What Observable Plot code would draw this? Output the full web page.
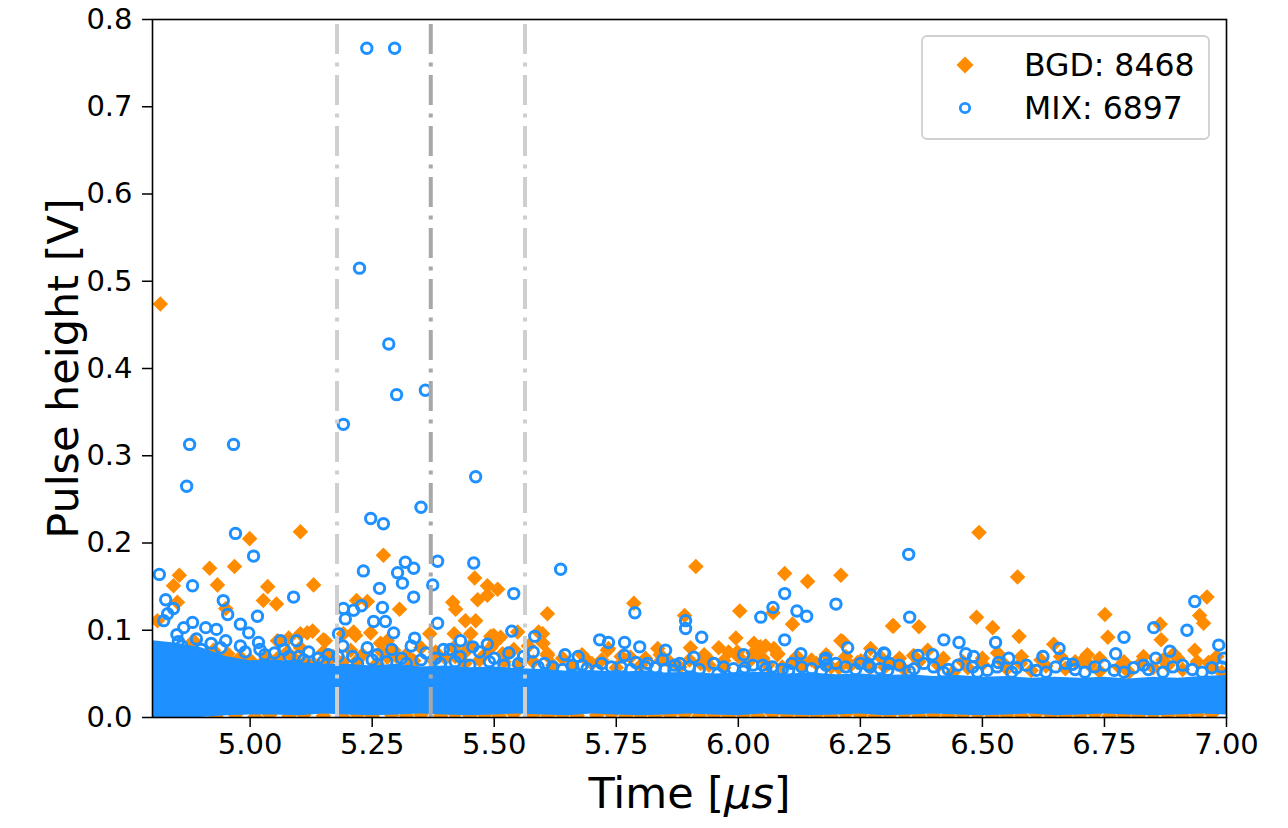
<!DOCTYPE html>
<html><head><meta charset="utf-8">
<script src="https://cdn.jsdelivr.net/npm/d3@7"></script>
<script src="https://cdn.jsdelivr.net/npm/@observablehq/plot@0.6"></script>
<style>
body{margin:0;background:#fff}
#wrap{position:relative;width:1288px;height:828px}
#legend{position:absolute;left:921px;top:35px}
</style></head>
<body><div id="wrap"></div>
<script>
const ORANGE = "#ff8c00", BLUE = "#1e90ff";
const xTicks = [5.00,5.25,5.50,5.75,6.00,6.25,6.50,6.75,7.00];
const yTicks = [0,0.1,0.2,0.3,0.4,0.5,0.6,0.7,0.8];
const legendLabels = ["BGD: 8468","MIX: 6897"];
const vlineLight = [5.178, 5.563];
const vlineDark = [5.370];

// BGD (orange diamonds) [time µs, pulse height V]
const bgdPoints = [
[4.816,0.474],[4.999,0.205],[5.103,0.213],[4.917,0.171],[4.968,0.173],[4.855,0.163],[4.843,0.151],[4.933,0.152],[5.036,0.150],[5.130,0.152],
[5.027,0.134],[5.054,0.130],[4.851,0.132],[4.950,0.125],[5.103,0.096],[5.128,0.099],[5.150,0.089],[5.079,0.091],[4.810,0.111],[4.884,0.086],
[5.273,0.186],[5.460,0.160],[5.486,0.151],[5.507,0.147],[5.466,0.135],[5.486,0.140],[5.415,0.132],[5.421,0.124],[5.306,0.124],[5.218,0.134],
[5.240,0.133],[5.609,0.119],[5.441,0.111],[5.462,0.111],[5.368,0.096],[5.418,0.096],[5.548,0.098],[5.591,0.098],[5.493,0.093],[5.513,0.092],
[5.212,0.098],[5.191,0.096],[5.281,0.088],[5.527,0.073],[5.609,0.073],
[5.913,0.173],[6.095,0.165],[6.142,0.156],[6.210,0.163],[5.786,0.131],[5.890,0.117],[6.003,0.122],[6.071,0.120],[6.111,0.107],[6.316,0.105],
[5.599,0.096],[5.995,0.091],[6.214,0.087],[6.032,0.085],[6.056,0.082],[6.073,0.079],[5.732,0.077],[5.835,0.079],[5.902,0.080],[5.998,0.075],
[6.271,0.079],[5.609,0.071],[5.923,0.062],[5.970,0.065],[6.113,0.065],[6.251,0.065],[6.308,0.062],
[6.493,0.212],[6.572,0.161],[6.960,0.138],[6.945,0.117],[6.953,0.108],[6.751,0.118],[6.318,0.105],[6.370,0.104],[6.488,0.115],[6.521,0.103],
[6.575,0.093],[6.757,0.092],[6.864,0.107],[6.866,0.089],[6.935,0.077],[6.646,0.084],[6.715,0.072],[6.892,0.073],[6.388,0.077],[6.531,0.074],
[6.963,0.063],[6.322,0.063],[6.825,0.063],[6.701,0.063],[6.578,0.062],
[6.045,0.081],[6.081,0.073],[6.210,0.088],[6.359,0.071],[5.734,0.079],[5.937,0.068],[5.980,0.075],[6.244,0.063],[6.327,0.062],[6.206,0.057],
[5.841,0.065],[5.779,0.069],[5.691,0.065],
[5.117,0.097],[5.154,0.088],[5.056,0.088],[4.884,0.088],[5.216,0.094],[5.247,0.097],[5.267,0.085],[5.294,0.077],[5.452,0.096],[5.499,0.094],
[5.517,0.073],[5.417,0.080],[5.437,0.073],[5.493,0.080],[5.206,0.077],[5.158,0.065],[5.103,0.080],[5.076,0.075],[4.925,0.077],[4.954,0.073],
[4.980,0.069],[5.035,0.069],[5.281,0.069],[5.335,0.065],[5.376,0.065],
[5.00,0.066],[5.05,0.064],[5.09,0.068],[5.13,0.062],[5.17,0.070],[5.22,0.066],[5.26,0.062],[5.30,0.070],[5.33,0.060],[5.40,0.068],
[5.44,0.062],[5.47,0.066],[5.52,0.064],[5.55,0.060],[5.58,0.064],
[5.62,0.060],[5.66,0.058],[5.70,0.062],[5.75,0.057],[5.80,0.060],[5.86,0.063],[5.88,0.058],[5.94,0.060],[5.97,0.057],[6.02,0.063],
[6.06,0.060],[6.09,0.058],[6.13,0.060],[6.16,0.062],[6.19,0.058],[6.23,0.060],[6.27,0.057],
[6.30,0.058],[6.34,0.055],[6.41,0.060],[6.44,0.052],[6.47,0.057],[6.50,0.061],[6.55,0.056],[6.60,0.054],[6.63,0.059],[6.67,0.056],
[6.72,0.060],[6.74,0.053],[6.78,0.058],[6.80,0.052],[6.85,0.057],[6.88,0.060],[6.91,0.055],[6.97,0.058],[6.99,0.052],
[4.87,0.072],[4.91,0.068],[4.96,0.064],[5.02,0.060],[5.06,0.070],[5.11,0.062],[5.15,0.075],[5.19,0.064],[5.23,0.072],[5.27,0.075],
[5.32,0.072],[5.35,0.080],[5.38,0.075],[5.42,0.070],[5.45,0.082],[5.48,0.072],[5.50,0.085],[5.54,0.078],[5.57,0.082],[5.60,0.085],
[5.64,0.068],[5.68,0.072],[5.72,0.066],[5.76,0.070],[5.81,0.068],[5.84,0.072],[5.90,0.066],[5.93,0.072],[5.96,0.080],[6.00,0.070],
[6.03,0.074],[6.05,0.068],[6.08,0.072],[6.12,0.070],[6.15,0.066],[6.18,0.072],[6.22,0.070],[6.26,0.066],[6.29,0.070],[6.33,0.068],
[6.37,0.064],[6.42,0.068],[6.46,0.064],[6.50,0.068],[6.54,0.064],[6.58,0.070],[6.62,0.066],[6.66,0.070],[6.69,0.064],[6.74,0.068],
[6.79,0.064],[6.83,0.070],[6.87,0.066],[6.90,0.068],[6.94,0.064],[6.98,0.070]
];
// BGD points lying at the very bottom of the band
const bgdBase = [
[4.93,0.002],[4.97,0.003],[5.01,0.001],[5.04,0.003],[5.08,0.002],[5.11,0.003],[5.15,0.002],[5.19,0.001],[5.22,0.003],[5.25,0.002],
[5.29,0.003],[5.32,0.002],[5.35,0.003],[5.39,0.002],[5.42,0.004],[5.45,0.002],[5.48,0.003],[5.51,0.002],[5.54,0.004],[5.58,0.003],
[5.61,0.002],[5.64,0.003],[5.67,0.002],[5.71,0.003],[5.74,0.004],[5.77,0.002],[5.80,0.003],[5.83,0.002],[5.86,0.003],[5.89,0.004],
[5.92,0.002],[5.95,0.003],[5.98,0.002],[6.01,0.003],[6.04,0.002],[6.07,0.004],[6.10,0.003],[6.13,0.002],[6.16,0.003],[6.19,0.002],
[6.22,0.004],[6.25,0.003],[6.28,0.002],[6.31,0.003],[6.34,0.004],[6.37,0.002],[6.40,0.003],[6.43,0.002],[6.46,0.003],[6.49,0.004],
[6.52,0.002],[6.55,0.003],[6.58,0.002],[6.61,0.004],[6.64,0.003],[6.67,0.002],[6.70,0.003],[6.73,0.004],[6.76,0.002],[6.79,0.003],
[6.82,0.002],[6.85,0.004],[6.88,0.003],[6.91,0.002],[6.94,0.003],[6.97,0.004]
];

// MIX (blue open circles) [time µs, pulse height V]
const mixPoints = [
[5.239,0.767],[5.296,0.767],[5.224,0.515],[5.284,0.428],[5.300,0.370],[5.359,0.375],[5.191,0.336],[4.876,0.313],[4.966,0.313],[4.870,0.265],
[5.462,0.276],[5.350,0.241],[5.247,0.228],[5.273,0.222],[4.970,0.211],[5.007,0.185],[4.814,0.164],[4.882,0.151],[4.827,0.135],[4.945,0.134],
[5.089,0.138],[4.954,0.118],[5.015,0.116],[4.831,0.119],[4.843,0.125],[4.823,0.111],[4.864,0.103],[4.882,0.109],[4.909,0.103],[4.931,0.101],
[4.980,0.107],[4.997,0.097],[4.853,0.087],[5.017,0.086],[5.062,0.088],[5.095,0.088],[5.191,0.125],[5.195,0.113],[5.181,0.096],
[5.232,0.168],[5.318,0.178],[5.302,0.166],[5.335,0.171],[5.312,0.154],[5.384,0.179],[5.458,0.177],[5.265,0.148],[5.335,0.138],[5.374,0.152],
[5.540,0.142],[5.271,0.126],[5.228,0.128],[5.212,0.123],[5.253,0.110],[5.277,0.110],[5.294,0.097],[5.384,0.108],[5.636,0.170],[5.536,0.099],
[5.583,0.093],[5.431,0.088],[5.486,0.084],[5.456,0.081],[5.337,0.091],[5.396,0.078],
[5.788,0.120],[5.892,0.111],[5.892,0.102],[5.925,0.092],[6.095,0.142],[6.071,0.126],[6.046,0.115],[6.120,0.122],[6.140,0.116],[6.095,0.089],
[6.200,0.130],[5.716,0.089],[5.734,0.086],[5.767,0.086],[5.798,0.081],[5.645,0.072],[5.672,0.070],[5.851,0.077],[5.909,0.069],[6.011,0.072],
[6.128,0.073],[6.224,0.080],[6.298,0.074],[6.271,0.072],[6.179,0.068],[5.767,0.071],
[6.349,0.187],[6.351,0.115],[6.935,0.133],[6.919,0.100],[6.851,0.103],[6.790,0.092],[6.421,0.089],[6.452,0.086],[6.527,0.086],[6.466,0.073],
[6.482,0.070],[6.554,0.068],[6.533,0.063],[6.624,0.070],[6.657,0.079],[6.773,0.073],[6.984,0.083],[6.884,0.076],[6.855,0.068],[6.300,0.073],
[6.368,0.071],[6.398,0.072],[6.685,0.061],[6.995,0.068],
[5.845,0.066],[5.814,0.062],[5.603,0.062],[6.177,0.066],[6.267,0.060],[6.306,0.054],[6.013,0.057],[6.056,0.056],[6.103,0.054],[5.868,0.054],
[5.958,0.050],
[4.86,0.082],[4.90,0.078],[4.94,0.080],[4.99,0.075],[5.03,0.072],[5.07,0.078],[5.10,0.070],[5.12,0.075],[5.14,0.068],[5.16,0.072],
[5.19,0.082],[5.21,0.070],[5.24,0.080],[5.26,0.072],[5.29,0.078],[5.31,0.068],[5.33,0.082],[5.36,0.074],[5.38,0.068],[5.41,0.078],
[5.43,0.070],[5.47,0.075],[5.50,0.068],[5.53,0.074],[5.56,0.070],[5.58,0.075],
[5.62,0.058],[5.66,0.060],[5.69,0.056],[5.72,0.062],[5.76,0.058],[5.79,0.063],[5.83,0.057],[5.87,0.060],[5.90,0.058],[5.95,0.062],
[5.99,0.056],[6.03,0.060],[6.07,0.058],[6.11,0.062],[6.15,0.056],[6.18,0.060],[6.22,0.058],[6.25,0.062],[6.29,0.056],[6.33,0.060],
[6.36,0.056],[6.40,0.058],[6.43,0.055],[6.48,0.058],[6.51,0.054],[6.57,0.057],[6.61,0.054],[6.65,0.058],[6.69,0.055],[6.73,0.058],
[6.77,0.054],[6.81,0.057],[6.84,0.055],[6.89,0.058],[6.93,0.055],[6.97,0.057],
[4.85,0.095],[4.89,0.090],[4.92,0.085],[4.95,0.088],[4.98,0.082],[5.02,0.078],[5.05,0.074],[5.08,0.070],[5.11,0.066],[5.15,0.064],
[5.18,0.070],[5.22,0.062],[5.25,0.066],[5.28,0.064],[5.32,0.062],[5.35,0.066],[5.39,0.062],[5.42,0.064],[5.45,0.060],[5.49,0.064],
[5.52,0.060],[5.55,0.062],[5.59,0.058],[5.64,0.055],[5.68,0.060],[5.71,0.054],[5.74,0.058],[5.78,0.055],[5.81,0.058],[5.85,0.055],
[5.88,0.062],[5.92,0.055],[5.97,0.058],[6.01,0.053],[6.05,0.060],[6.09,0.055],[6.13,0.058],[6.17,0.053],[6.20,0.062],[6.24,0.055],
[6.27,0.058],[6.31,0.062],[6.35,0.053],[6.38,0.062],[6.42,0.052],[6.45,0.060],[6.49,0.052],[6.53,0.058],[6.56,0.052],[6.59,0.060],
[6.63,0.052],[6.67,0.062],[6.71,0.052],[6.75,0.060],[6.79,0.052],[6.83,0.060],[6.87,0.052],[6.91,0.060],[6.95,0.052],[6.99,0.058]
];

// Saturated MIX core: extent of the solid band of overlapping circles
const bandTime = [4.80,4.85,4.90,4.95,5.00,5.05,5.10,5.15,5.20,5.25,5.30,5.35,5.40,5.45,5.50,5.55,5.60,5.65,5.70,5.75,5.80,5.85,5.90,5.95,6.00,6.05,6.10,6.15,6.20,6.25,6.30,6.35,6.40,6.45,6.50,6.55,6.60,6.65,6.70,6.75,6.80,6.85,6.90,6.95,7.00];
const bandTop = [0.088,0.085,0.080,0.070,0.065,0.066,0.063,0.061,0.061,0.059,0.061,0.058,0.059,0.057,0.058,0.056,0.055,0.053,0.054,0.052,0.053,0.051,0.052,0.050,0.051,0.052,0.050,0.051,0.049,0.050,0.048,0.049,0.047,0.048,0.046,0.047,0.045,0.046,0.045,0.046,0.044,0.046,0.045,0.047,0.048];
const bandBottom = [0,0,0,0.002,0.003,0.003,0.002,0.004,0.003,0.002,0.003,0.004,0.003,0.002,0.003,0.004,0.003,0.002,0.004,0.003,0.002,0.003,0.004,0.003,0.002,0.004,0.003,0.002,0.003,0.004,0.002,0.003,0.004,0.003,0.002,0.003,0.004,0.002,0.003,0.004,0.003,0.002,0.003,0.004,0.003];

const band = bandTime.map((t,i)=>({t, lo: bandBottom[i], hi: bandTop[i]}));
const px = d=>d[0], py = d=>d[1];

const chart = Plot.plot({
  width: 1288, height: 828,
  marginLeft: 152, marginRight: 62, marginTop: 19, marginBottom: 111,
  x: {domain: [4.8, 7.0]},
  y: {domain: [0, 0.8]},
  style: {fontFamily: "DejaVu Sans", fontSize: "29px", color: "black", background: "white"},
  marks: [
    Plot.dot(bgdBase, {x: px, y: py, symbol: "diamond2", r: 7, fill: ORANGE, stroke: "none", clip: true}),
    Plot.dot(bgdPoints, {x: px, y: py, symbol: "diamond2", r: 7, fill: ORANGE, stroke: "none", clip: true}),
    Plot.areaY(band, {x: "t", y1: "lo", y2: "hi", fill: BLUE, clip: true}),
    Plot.dot(mixPoints, {x: px, y: py, r: 5.2, stroke: BLUE, strokeWidth: 3, fill: "none", clip: true}),
    Plot.ruleX(vlineLight, {stroke: "#cfcfcf", strokeWidth: 4, strokeDasharray: "30,8.5,4,8.5", strokeDashoffset: 46}),
    Plot.ruleX(vlineDark, {stroke: "#a8a8a8", strokeWidth: 4, strokeDasharray: "30,8.5,4,8.5", strokeDashoffset: 46}),
    Plot.axisX({ticks: xTicks, tickFormat: d3.format(".2f"), tickSize: 10, tickPadding: 6, strokeWidth: 1.5,
      label: "Time [μs]", labelAnchor: "center", labelOffset: 90}),
    Plot.axisY({ticks: yTicks, tickFormat: d3.format(".1f"), tickSize: 10, tickPadding: 10, strokeWidth: 1.5,
      label: "Pulse height [V]", labelAnchor: "center", labelOffset: 105}),
    Plot.frame({stroke: "black", strokeWidth: 1.6})
  ]
});

const wrap = document.getElementById("wrap");
wrap.appendChild(chart);

// axis label styling (mathtext italic µs)
const ns = "http://www.w3.org/2000/svg";
const xl = chart.querySelector('[aria-label="x-axis label"] text');
if (xl) {
  xl.textContent = "";
  xl.setAttribute("font-size", "43");
  const a = document.createElementNS(ns, "tspan"); a.textContent = "Time [";
  const b = document.createElementNS(ns, "tspan"); b.textContent = "μs"; b.setAttribute("font-style", "italic");
  const c = document.createElementNS(ns, "tspan"); c.textContent = "]";
  xl.append(a, b, c);
}
const yl = chart.querySelector('[aria-label="y-axis label"] text');
if (yl) { yl.textContent = "Pulse height [V]"; yl.setAttribute("font-size", "43"); }

// legend
const lg = d3.create("svg").attr("id","legend").attr("width", 290).attr("height", 106)
  .style("font-family","DejaVu Sans").style("font-size","31.5px");
lg.append("rect").attr("x",1).attr("y",1).attr("width",287).attr("height",103).attr("rx",5)
  .attr("fill","white").attr("fill-opacity",0.8).attr("stroke","#d0d0d0").attr("stroke-width",1.8);
lg.append("path").attr("d","M44,21.5L52.5,30L44,38.5L35.5,30Z").attr("fill",ORANGE);
lg.append("circle").attr("cx",44).attr("cy",73).attr("r",4.7).attr("fill","none").attr("stroke",BLUE).attr("stroke-width",2.8);
lg.append("text").attr("x",103).attr("y",41).text(legendLabels[0]);
lg.append("text").attr("x",103).attr("y",84).text(legendLabels[1]);
wrap.appendChild(lg.node());
</script>
</body></html>
